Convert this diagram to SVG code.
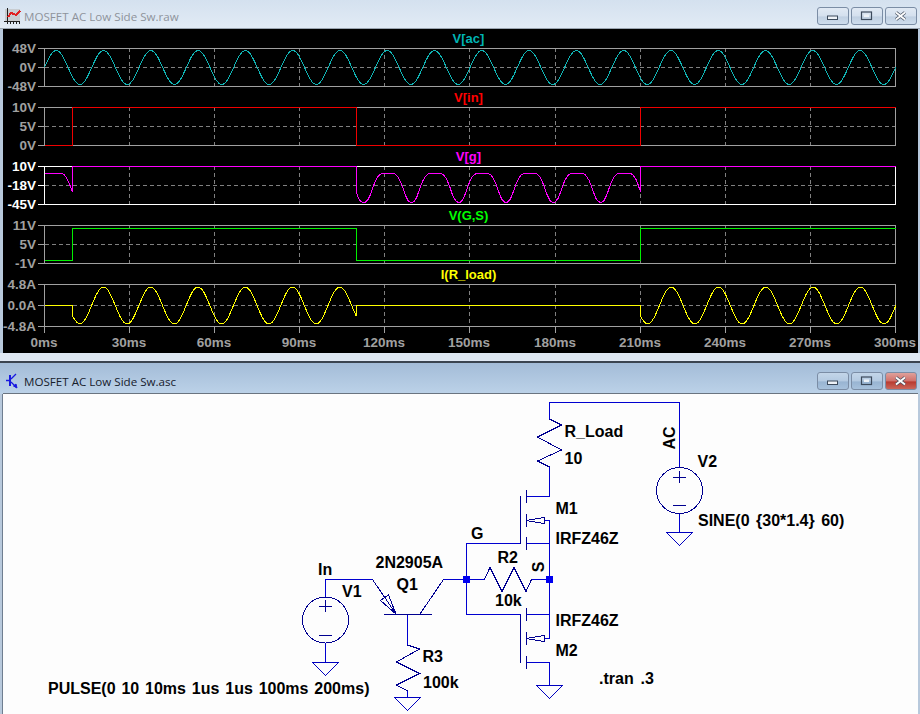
<svg xmlns="http://www.w3.org/2000/svg" xmlns:xlink="http://www.w3.org/1999/xlink" width="920" height="714" viewBox="0 0 920 714">
<style>
text{font-family:"Liberation Sans",Arial,sans-serif;font-weight:bold}
.title{font-family:"Open Sans","Liberation Sans",sans-serif;font-weight:normal;font-size:11.6px}
.ax{font-size:13.5px;fill:#a0a0a0;text-anchor:end}
.ax.w{fill:#fff}
.xl{font-size:13.5px;fill:#a0a0a0;text-anchor:middle}
.lab{font-size:13px;text-anchor:middle}
.sch{font-size:16px;fill:#000}
.frame{fill:none;stroke:#a0a0a0;stroke-width:1;shape-rendering:crispEdges}
.frame.w{stroke:#fff}
.tick{stroke:#a0a0a0;stroke-width:1;fill:none;shape-rendering:crispEdges}
.tick.w{stroke:#fff}
.grid{stroke:#808080;stroke-width:1;stroke-dasharray:4 3;fill:none;shape-rendering:crispEdges}
.wave{fill:none;stroke-width:1;shape-rendering:crispEdges}
.wire{fill:none;stroke:#0000d0;stroke-width:1;shape-rendering:crispEdges}
.sym{fill:none;stroke:#000090;stroke-width:1;shape-rendering:crispEdges}
.sym2{fill:none;stroke:#0000c0;stroke-width:1;shape-rendering:crispEdges}
.btn{stroke:#7b8da5;stroke-width:1}
</style>
<defs>
<linearGradient id="tA" x1="0" y1="0" x2="0" y2="1"><stop offset="0" stop-color="#d4e1ef"/><stop offset="1" stop-color="#e2ebf5"/></linearGradient>
<linearGradient id="tB" x1="0" y1="0" x2="0" y2="1"><stop offset="0" stop-color="#a3bcd8"/><stop offset="1" stop-color="#bcd2e8"/></linearGradient>
<linearGradient id="bA" x1="0" y1="0" x2="0" y2="1"><stop offset="0" stop-color="#e2eaf4"/><stop offset="0.5" stop-color="#d4e0ee"/><stop offset="0.55" stop-color="#c0d0e2"/><stop offset="1" stop-color="#d0deee"/></linearGradient>
<linearGradient id="bB" x1="0" y1="0" x2="0" y2="1"><stop offset="0" stop-color="#c4d6e9"/><stop offset="0.5" stop-color="#b4cae1"/><stop offset="0.55" stop-color="#98b4d2"/><stop offset="1" stop-color="#a8c2dd"/></linearGradient>
<linearGradient id="bC" x1="0" y1="0" x2="0" y2="1"><stop offset="0" stop-color="#e0a49e"/><stop offset="0.5" stop-color="#d0706a"/><stop offset="0.55" stop-color="#b83a30"/><stop offset="1" stop-color="#cc6a5e"/></linearGradient>
<path id="sine" d="M0,0c3.85,-8.71 7.54,-17 11.82,-17c4.28,0 7.97,8.29 11.82,17c3.85,8.71 7.54,17 11.82,17c4.28,0 7.97,-8.29 11.82,-17"/>
<path id="gnd" d="M-13,0H13L0,13Z"/>
<g id="glyphs">
<rect x="10.5" y="8.5" width="10" height="3.5" fill="#eef2f7" stroke="#3c4a5c"/>
<rect x="44.5" y="4.5" width="10" height="7.5" fill="none" stroke="#3c4a5c" stroke-width="1.2"/>
<rect x="47" y="7" width="5" height="2.5" fill="#eef2f7"/>
<path d="M79,5L88,12M88,5L79,12" stroke="#4a5464" stroke-width="3.4" fill="none"/>
<path d="M79,5L88,12M88,5L79,12" stroke="#fff" stroke-width="1.8" fill="none"/>
</g>
</defs>

<g id="chrome">
<rect x="0" y="0" width="920" height="714" fill="#b8c9dc"/>
<rect x="0" y="0" width="920" height="29" fill="url(#tA)"/>
<rect x="0" y="28" width="920" height="1" fill="#9aa4b0"/>
<rect x="3" y="29" width="915" height="324" fill="#000"/>
<rect x="0" y="353" width="920" height="8" fill="#dfe8f3"/>
<rect x="0" y="361" width="920" height="2" fill="#3a4450"/>
<rect x="0" y="363" width="920" height="31" fill="url(#tB)"/>
<rect x="3" y="393" width="915" height="1" fill="#6a7480"/>
<rect x="3" y="394" width="915" height="320" fill="#fdfdfd"/>
<rect x="2" y="394" width="1" height="320" fill="#6f7e90"/>
<text class="title" x="24" y="21" fill="#8e939b">MOSFET AC Low Side Sw.raw</text>
<text class="title" x="24" y="386" fill="#16202c">MOSFET AC Low Side Sw.asc</text>
<g id="icon-plot" shape-rendering="crispEdges" fill="none" stroke-width="1">
<rect x="5" y="9" width="15" height="12" fill="#c8ccd0"/>
<path d="M7.5,8V24M4,21.5H20M10.5,22V24M13.5,22V24M16.5,22V24M19.5,22V24" stroke="#202020"/>
<path d="M8,17L11,13L14,14L16,15L20,11" stroke="#e02020" stroke-width="2"/>
</g>
<g id="icon-sch" fill="none" stroke="#1818e0">
<path d="M10,375V386" stroke-width="2"/>
<path d="M6,380.5H10M11,379L16,374M11,382L16,387" stroke-width="1.3"/>
<path d="M13.5,386L17,388L16,384Z" fill="#1818e0"/>
</g>
<g id="buttons-top">
<rect class="btn" x="817.5" y="7.5" width="31" height="17" rx="2.5" fill="url(#bA)"/>
<rect class="btn" x="851.5" y="7.5" width="31" height="17" rx="2.5" fill="url(#bA)"/>
<rect class="btn" x="885.5" y="7.5" width="31" height="17" rx="2.5" fill="url(#bA)"/>
<use href="#glyphs" x="817" y="7.5"/>
</g>
<g id="buttons-bottom">
<rect class="btn" x="817.5" y="372.5" width="31" height="17" rx="2.5" fill="url(#bB)"/>
<rect class="btn" x="851.5" y="372.5" width="31" height="17" rx="2.5" fill="url(#bB)"/>
<rect class="btn" x="885.5" y="372.5" width="31" height="17" rx="2.5" fill="url(#bC)" stroke="#8a4a48"/>
<use href="#glyphs" x="817" y="372.5"/>
</g>
</g>

<g id="plot">
<g id="plot-grid">
<path class="grid" d="M44.5,67.5H895.5M44.5,126.5H895.5M44.5,185.5H895.5M44.5,244.5H895.5M44.5,305.5H895.5"/>
<path class="grid" d="M129.5,48V87M214.5,48V87M299.5,48V87M384.5,48V87M469.5,48V87M555.5,48V87M640.5,48V87M725.5,48V87M810.5,48V87"/>
<path class="grid" d="M129.5,107V146M214.5,107V146M299.5,107V146M384.5,107V146M469.5,107V146M555.5,107V146M640.5,107V146M725.5,107V146M810.5,107V146"/>
<path class="grid" d="M129.5,166V205M214.5,166V205M299.5,166V205M384.5,166V205M469.5,166V205M555.5,166V205M640.5,166V205M725.5,166V205M810.5,166V205"/>
<path class="grid" d="M129.5,225V264M214.5,225V264M299.5,225V264M384.5,225V264M469.5,225V264M555.5,225V264M640.5,225V264M725.5,225V264M810.5,225V264"/>
<path class="grid" d="M129.5,284V327M214.5,284V327M299.5,284V327M384.5,284V327M469.5,284V327M555.5,284V327M640.5,284V327M725.5,284V327M810.5,284V327"/>
</g>
<g id="plot-frames">
<rect class="frame" x="44.5" y="48.5" width="851" height="38"/>
<rect class="frame" x="44.5" y="107.5" width="851" height="38"/>
<rect class="frame w" x="44.5" y="166.5" width="851" height="38"/>
<rect class="frame" x="44.5" y="225.5" width="851" height="38"/>
<rect class="frame" x="44.5" y="284.5" width="851" height="42"/>
<path class="tick" d="M38,48.5H44M38,67.5H44M38,86.5H44M38,107.5H44M38,126.5H44M38,145.5H44M38,225.5H44M38,244.5H44M38,263.5H44M38,284.5H44M38,305.5H44M38,326.5H44"/>
<path class="tick w" d="M38,166.5H44M38,185.5H44M38,204.5H44"/>
<path class="tick" d="M44.5,327V333M129.5,327V333M214.5,327V333M299.5,327V333M384.5,327V333M469.5,327V333M555.5,327V333M640.5,327V333M725.5,327V333M810.5,327V333M895.5,327V333"/>
</g>
<g id="plot-axis-labels">
<text class="ax" x="36" y="53">48V</text><text class="ax" x="36" y="72">0V</text><text class="ax" x="36" y="91">-48V</text>
<text class="ax" x="36" y="112">10V</text><text class="ax" x="36" y="131">5V</text><text class="ax" x="36" y="150">0V</text>
<text class="ax w" x="36" y="171">10V</text><text class="ax w" x="36" y="190">-18V</text><text class="ax w" x="36" y="209">-45V</text>
<text class="ax" x="36" y="230">11V</text><text class="ax" x="36" y="249">5V</text><text class="ax" x="36" y="268">-1V</text>
<text class="ax" x="36" y="289">4.8A</text><text class="ax" x="36" y="310">0.0A</text><text class="ax" x="36" y="331">-4.8A</text>
<text class="xl" x="44" y="347">0ms</text><text class="xl" x="129" y="347">30ms</text><text class="xl" x="214" y="347">60ms</text><text class="xl" x="299" y="347">90ms</text><text class="xl" x="384" y="347">120ms</text><text class="xl" x="469" y="347">150ms</text><text class="xl" x="555" y="347">180ms</text><text class="xl" x="640" y="347">210ms</text><text class="xl" x="725" y="347">240ms</text><text class="xl" x="810" y="347">270ms</text><text class="xl" x="895" y="347">300ms</text>
</g>
<g id="plot-traces">
<text class="lab" x="468.5" y="43" fill="#00b4b4">V[ac]</text>
<text class="lab" x="468.5" y="102" fill="#ff0000">V[in]</text>
<text class="lab" x="468.5" y="161" fill="#ff00ff">V[g]</text>
<text class="lab" x="468.5" y="220" fill="#00ff00">V(G,S)</text>
<text class="lab" x="468.5" y="279" fill="#ffff00">I(R_load)</text>
<g class="wave" stroke="#10b4b4">
<use href="#sine" x="44.5" y="67.5"/><use href="#sine" x="91.78" y="67.5"/><use href="#sine" x="139.06" y="67.5"/><use href="#sine" x="186.34" y="67.5"/><use href="#sine" x="233.62" y="67.5"/><use href="#sine" x="280.9" y="67.5"/><use href="#sine" x="328.18" y="67.5"/><use href="#sine" x="375.46" y="67.5"/><use href="#sine" x="422.74" y="67.5"/><use href="#sine" x="470.02" y="67.5"/><use href="#sine" x="517.3" y="67.5"/><use href="#sine" x="564.58" y="67.5"/><use href="#sine" x="611.86" y="67.5"/><use href="#sine" x="659.14" y="67.5"/><use href="#sine" x="706.42" y="67.5"/><use href="#sine" x="753.7" y="67.5"/><use href="#sine" x="800.98" y="67.5"/><use href="#sine" x="848.26" y="67.5"/>
</g>
<path class="wave" stroke="#f00000" d="M44.5,145.5H72.5V107.5H356.5V145.5H640.5V107.5H895.5"/>
<path class="wave" stroke="#ff00ff" d="M44.5,173.5H61c3,0 5,3 6.5,6c2,4 3.5,9 5,12.2V166.5H356.5V191.7c1,6 3,10.8 7.7,10.8
c4.5,0 6.5,-9 9,-16c2.5,-7 5,-13 9.15,-13h11c4,0 6.5,6 9,13c2.5,7 4.5,16 9.15,16
c4.5,0 6.5,-9 9,-16c2.5,-7 5,-13 9.15,-13h11c4,0 6.5,6 9,13c2.5,7 4.5,16 9.15,16
c4.5,0 6.5,-9 9,-16c2.5,-7 5,-13 9.15,-13h11c4,0 6.5,6 9,13c2.5,7 4.5,16 9.15,16
c4.5,0 6.5,-9 9,-16c2.5,-7 5,-13 9.15,-13h11c4,0 6.5,6 9,13c2.5,7 4.5,16 9.15,16
c4.5,0 6.5,-9 9,-16c2.5,-7 5,-13 9.15,-13h11c4,0 6.5,6 9,13c2.5,7 4.5,16 9.15,16
c4.5,0 6.5,-9 9,-16c2.5,-7 5,-13 9.15,-13H629.5c3,0 5,3 6.5,6c2,4 3.2,9 4.5,12.2V166.5H895.5"/>
<path class="wave" stroke="#00f000" d="M44.5,260.5H72.5V228.5H356.5V260.5H640.5V228.5H895.5"/>
<path class="wave" stroke="#ffff00" d="M44.5,305.5H72.7V316.4c2.5,4 4.5,7.6 7.1,7.6
c4.28,0 7.97,-9.02 11.82,-18.5c3.85,-9.48 7.54,-18.5 11.82,-18.5c4.28,0 7.97,9.02 11.82,18.5c3.85,9.48 7.54,18.5 11.82,18.5
c4.28,0 7.97,-9.02 11.82,-18.5c3.85,-9.48 7.54,-18.5 11.82,-18.5c4.28,0 7.97,9.02 11.82,18.5c3.85,9.48 7.54,18.5 11.82,18.5
c4.28,0 7.97,-9.02 11.82,-18.5c3.85,-9.48 7.54,-18.5 11.82,-18.5c4.28,0 7.97,9.02 11.82,18.5c3.85,9.48 7.54,18.5 11.82,18.5
c4.28,0 7.97,-9.02 11.82,-18.5c3.85,-9.48 7.54,-18.5 11.82,-18.5c4.28,0 7.97,9.02 11.82,18.5c3.85,9.48 7.54,18.5 11.82,18.5
c4.28,0 7.97,-9.02 11.82,-18.5c3.85,-9.48 7.54,-18.5 11.82,-18.5c4.28,0 7.97,9.02 11.82,18.5c3.85,9.48 7.54,18.5 11.82,18.5
c4.28,0 7.97,-9.02 11.82,-18.5c3.85,-9.48 7.54,-18.5 11.82,-18.5c4.28,0 7.97,9.02 11.82,18.5c1.5,3.7 3.1,7.5 4.78,10.9V305.5H640.5V316.4c2.5,4 4.5,7.6 7.1,7.6
c4.28,0 7.97,-9.02 11.82,-18.5c3.85,-9.48 7.54,-18.5 11.82,-18.5c4.28,0 7.97,9.02 11.82,18.5c3.85,9.48 7.54,18.5 11.82,18.5
c4.28,0 7.97,-9.02 11.82,-18.5c3.85,-9.48 7.54,-18.5 11.82,-18.5c4.28,0 7.97,9.02 11.82,18.5c3.85,9.48 7.54,18.5 11.82,18.5
c4.28,0 7.97,-9.02 11.82,-18.5c3.85,-9.48 7.54,-18.5 11.82,-18.5c4.28,0 7.97,9.02 11.82,18.5c3.85,9.48 7.54,18.5 11.82,18.5
c4.28,0 7.97,-9.02 11.82,-18.5c3.85,-9.48 7.54,-18.5 11.82,-18.5c4.28,0 7.97,9.02 11.82,18.5c3.85,9.48 7.54,18.5 11.82,18.5
c4.28,0 7.97,-9.02 11.82,-18.5c3.85,-9.48 7.54,-18.5 11.82,-18.5c4.28,0 7.97,9.02 11.82,18.5c3.85,9.48 7.54,18.5 11.82,18.5
c4.28,0 7.97,-9.02 11.82,-18.5"/>
</g>
</g>

<g id="connectors">
<path class="wire" d="M549.5,420V402.5H679.5V467"/>
<path class="wire" d="M549.5,467V496.5H526"/>
<path class="wire" d="M526,543.5H549.5V520.5H544"/>
<path class="wire" d="M549.5,543.5V638.5H544"/>
<path class="wire" d="M526,614.5H549.5"/>
<path class="wire" d="M526,662.5H549.5V685"/>
<path class="wire" d="M520.5,543.5H466.5V614.5H520.5"/>
<path class="wire" d="M443.5,579.5H484.5"/>
<path class="wire" d="M531.5,579.5H549.5"/>
<path class="wire" d="M325.5,597V579.5H372.5"/>
<path class="wire" d="M325.5,643V662"/>
<path class="wire" d="M679.5,513V532"/>
<path class="wire" d="M407.5,614.5V645"/>
<path class="wire" d="M407.5,691V697"/>
</g>

<g id="R_Load"><path class="sym" d="M549.5,419L561.5,425L537.5,437L561.5,450L537.5,461L549.5,467"/><text class="sch" x="564.5" y="437">R_Load</text><text class="sch" x="564.5" y="463.5">10</text></g>
<g id="V2"><circle class="sym" cx="679.5" cy="490.5" r="23"/><path class="sym" d="M673,477H686M679.5,471V483M673,505H686"/><text class="sch" x="697.5" y="467">V2</text><text class="sch" x="698" y="526" word-spacing="2">SINE(0 {30*1.4} 60)</text><use href="#gnd" class="sym2" x="679.5" y="532.5"/><text class="sch" transform="translate(675 438) rotate(-90)" text-anchor="middle">AC</text></g>
<g id="M1"><path class="sym" d="M520.5,496V543.5M526,490V503M526,514V527M526,537V549.5"/><path class="sym" d="M526,520.5L544,517.5V523.5Z"/><text class="sch" x="555.5" y="514">M1</text><text class="sch" x="555.5" y="544">IRFZ46Z</text></g>
<g id="M2"><path class="sym" d="M520.5,614.5V662.5M526,608V621M526,632V644.5M526,656V668.5"/><path class="sym" d="M526,638.5L544,635.5V641.5Z"/><text class="sch" x="555.5" y="625.5">IRFZ46Z</text><text class="sch" x="555.5" y="655.5">M2</text><use href="#gnd" class="sym2" x="549.5" y="685.5"/></g>
<g id="R2"><path class="sym" d="M484.5,579.5L490,567.5L502,591.5L514,567.5L526,591.5L531.5,579.5"/><text class="sch" x="497.5" y="563">R2</text><text class="sch" x="495" y="605.5">10k</text></g>
<g id="node-G"><rect x="463" y="576" width="7" height="7" fill="#0000f0"/><text class="sch" x="471" y="538.5">G</text></g>
<g id="node-S"><rect x="546" y="576" width="7" height="7" fill="#0000f0"/><text class="sch" transform="translate(544 567) rotate(-90)" text-anchor="middle">S</text></g>
<g id="Q1"><path class="sym" d="M384,614.5H431.5M372.5,579.5L396,614M420,614L443.5,579.5"/><path class="sym" d="M396,614L380.5,600.5L388.5,595Z"/><text class="sch" x="375.5" y="568">2N2905A</text><text class="sch" x="396.5" y="590">Q1</text></g>
<g id="R3"><path class="sym" d="M407.5,645L419.5,649L396.5,662L419.5,673.5L396.5,685L407.5,691"/><text class="sch" x="422.5" y="661.5">R3</text><text class="sch" x="423" y="687.5">100k</text><use href="#gnd" class="sym2" x="407.5" y="697.5"/></g>
<g id="V1"><circle class="sym" cx="325.5" cy="620" r="23"/><path class="sym" d="M319,606H332M325.5,600V612M319,635.5H332"/><text class="sch" x="318" y="575">In</text><text class="sch" x="342" y="597">V1</text><text class="sch" x="48" y="693.5" word-spacing="1.4">PULSE(0 10 10ms 1us 1us 100ms 200ms)</text><use href="#gnd" class="sym2" x="325.5" y="662.5"/></g>
<g id="directive"><text class="sch" x="599" y="683.5" word-spacing="2.5">.tran .3</text></g>
</svg>
